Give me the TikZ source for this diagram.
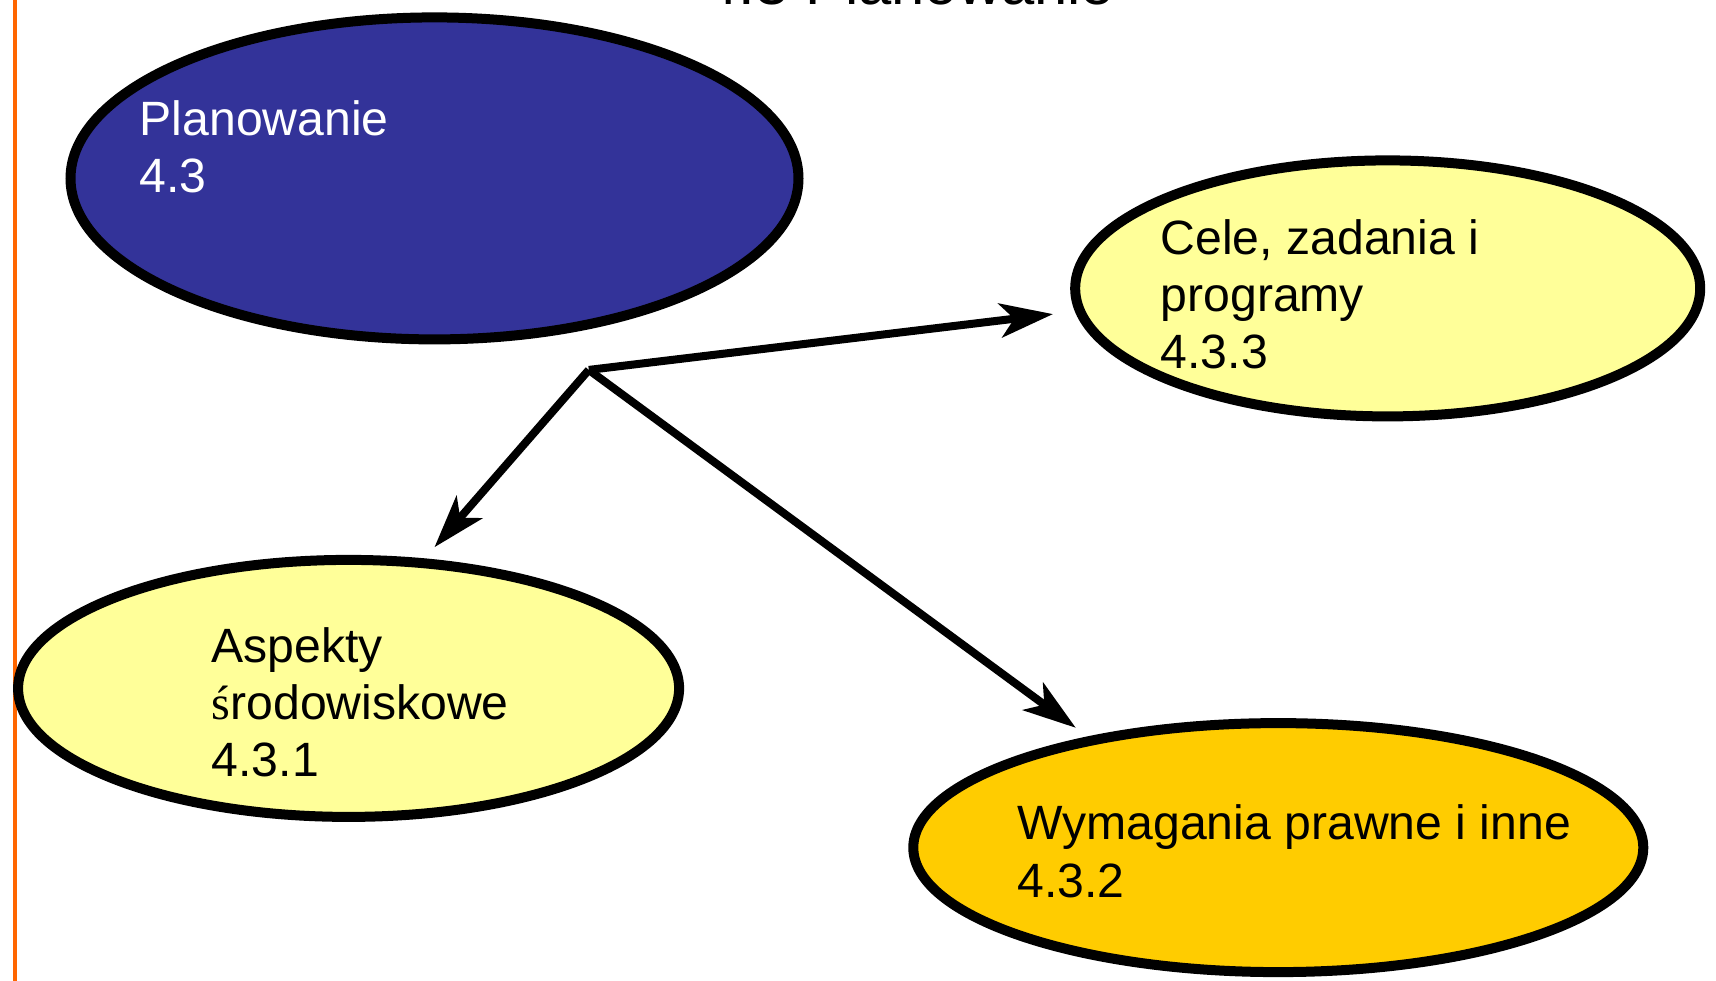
\documentclass[tikz,border=0pt]{standalone}
\usepackage{fontspec}
\setmainfont{Liberation Sans}
\newfontfamily\accfont{Liberation Serif}
\usetikzlibrary{positioning,shapes.geometric,arrows.meta}

\definecolor{planblue}{HTML}{333399}
\definecolor{paleyellow}{HTML}{FFFF99}
\definecolor{goldfill}{HTML}{FFCC00}
\definecolor{rulerorange}{HTML}{FF6600}

\begin{document}
\begin{tikzpicture}[
        bubble/.style={ellipse, draw, line width=0.1cm, inner sep=0pt},
        bubbletext/.style={anchor=base west, align=left, inner sep=0pt, font=\fontsize{13.7pt}{16.3pt}\selectfont},
        link/.style={-{Stealth[length=0.53cm, width=0.34cm, inset=0.14cm]}, line width=0.08cm}
    ]
        \useasboundingbox (0,0) rectangle (17.16,-9.81);

        % heading, cut by the top edge
        \node[anchor=base west, inner sep=0pt, font=\fontsize{17pt}{20pt}\selectfont] (title) at (7.05,-0.04) {4.3 Planowanie};
        \draw[rulerorange, line width=0.04cm] (0.147,0) -- (0.147,-9.81);

        \node[bubble, fill=planblue, minimum width=7.28cm, minimum height=3.22cm] (plan) at (4.345,-1.784) {};
        \node[bubble, fill=paleyellow, minimum width=6.25cm, minimum height=2.56cm] (cele) at (13.877,-2.884) {};
        \node[bubble, fill=paleyellow, minimum width=6.61cm, minimum height=2.57cm] (aspekty) at (3.486,-6.884) {};
        \node[bubble, fill=goldfill, minimum width=7.30cm, minimum height=2.49cm] (wymagania) at (12.783,-8.476) {};

        % base of a multi-line text = its last line
        \node[bubbletext, text=white] (plantext) at (1.39,-1.926) {Planowanie\\4.3};
        \node[bubbletext] (celetext) at (11.60,-3.688) {Cele, zadania i\\programy\\4.3.3};
        \node[bubbletext] (aspektytext) at (2.11,-7.767) {Aspekty\\{\accfont ś}rodowiskowe\\4.3.1};
        \node[bubbletext] (wymaganiatext) at (10.167,-8.97) {Wymagania prawne i inne\\4.3.2};

        \coordinate (hub) at (5.888,-3.699);
        \coordinate (celetip) at (10.53,-3.141);
        \coordinate (aspektytip) at (4.345,-5.472);
        \coordinate (wymaganiatip) at (10.758,-7.278);

        \draw[link] (hub) -- (celetip);
        \draw[link] (hub) -- (aspektytip);
        \draw[link] (hub) -- (wymaganiatip);
\end{tikzpicture}
\end{document}
